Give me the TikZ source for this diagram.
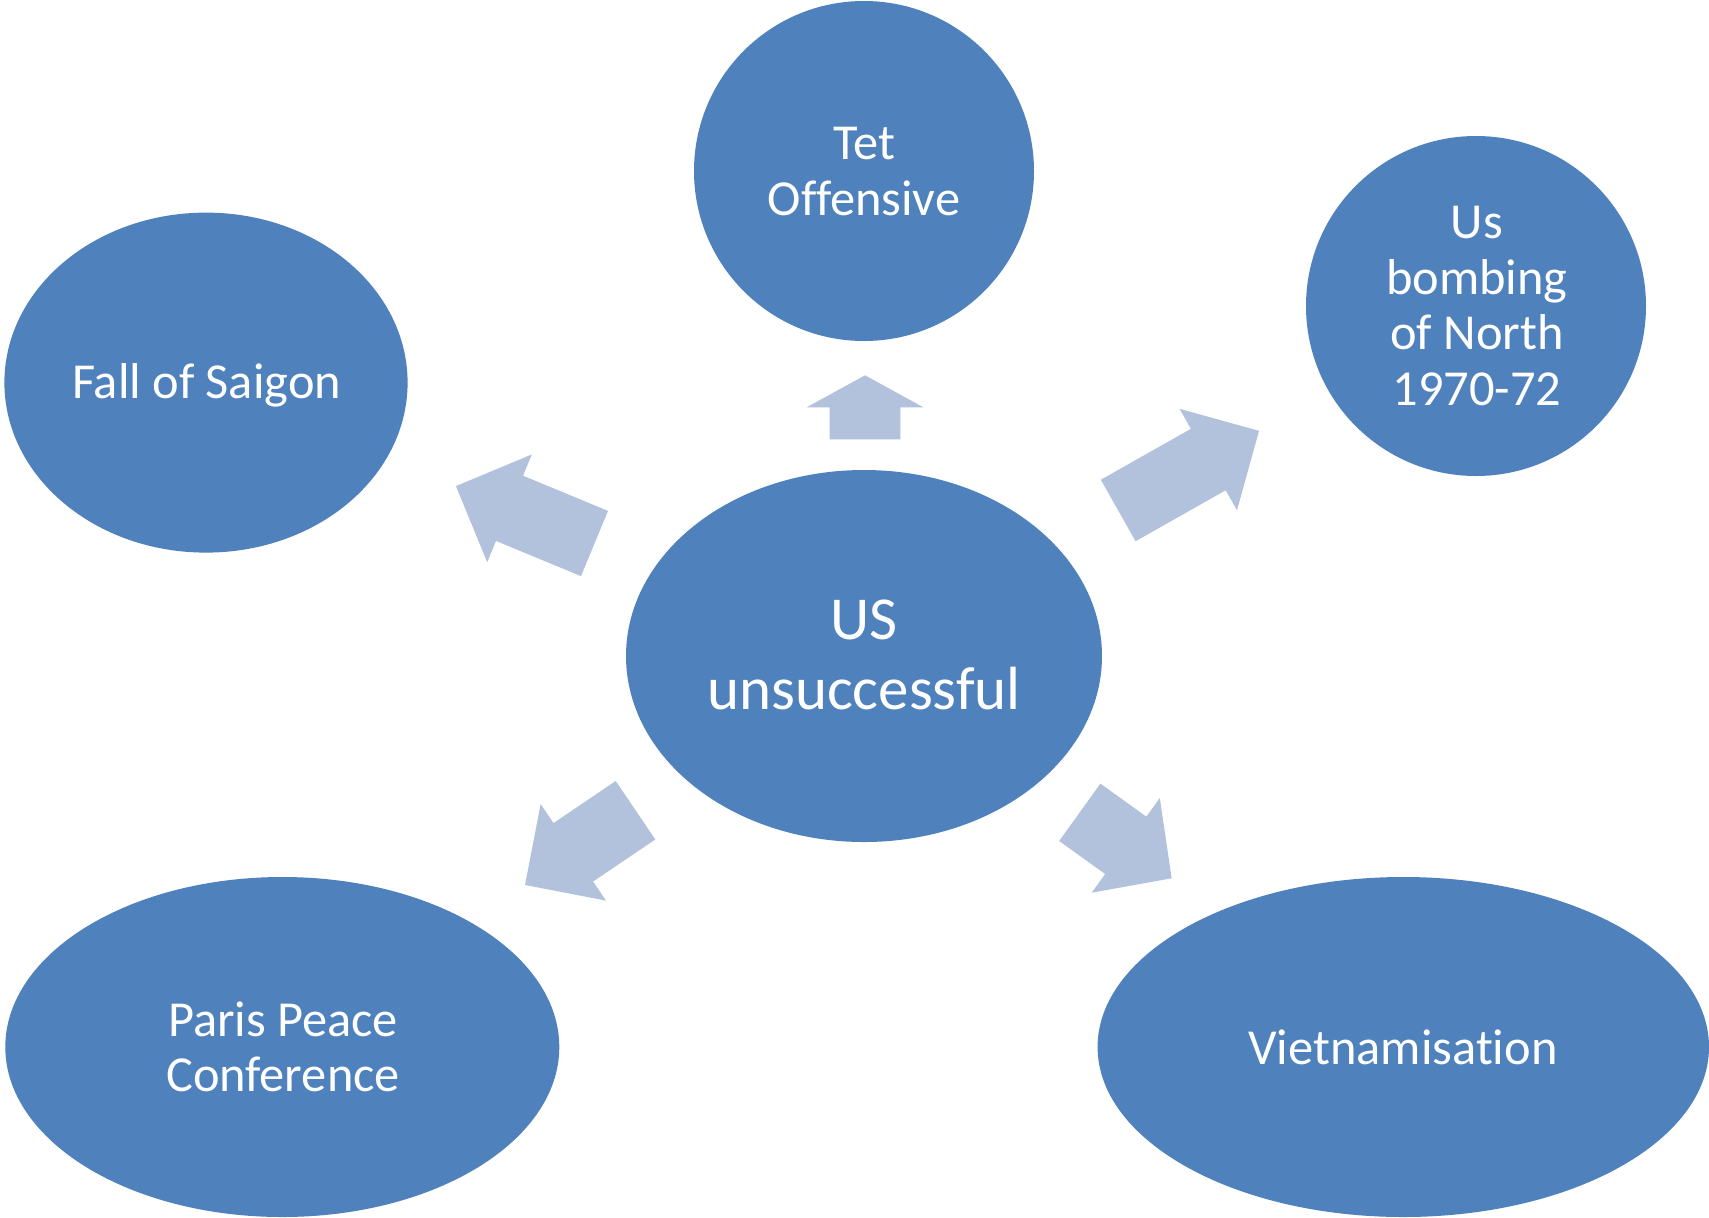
\documentclass[tikz,border=0pt]{standalone}
\usepackage{fontspec}
\setmainfont{Carlito}[RawFeature={-liga;-clig}]
\usetikzlibrary{shapes.geometric}
\definecolor{bubblefill}{RGB}{79,129,189}
\definecolor{arrowfill}{RGB}{178,194,220}
\tikzset{
  bubble/.style={ellipse, fill=bubblefill, draw=none, inner sep=0pt},
  lbl/.style={text=white, align=center, inner sep=0pt},
  small/.style={font=\fontsize{25.2}{#1}\selectfont},
  pics/blockarrow/.style 2 args={code={
    \fill[arrowfill] (0,-35.3) -- ({#1-#2},-35.3) -- ({#1-#2},-58.3) -- (#1,0)
      -- ({#1-#2},58.3) -- ({#1-#2},35.3) -- (0,35.3) -- cycle;
  }}
}
\begin{document}
\begin{tikzpicture}[x=0.5pt,y=-0.5pt]
\fill[white] (0,0) rectangle (1709,1217);
\useasboundingbox (0,0) rectangle (1709,1217);
% bubbles
\node[bubble, minimum width=238pt, minimum height=186pt] (eC) at (864,656) {};
\node[bubble, minimum width=170pt, minimum height=170pt] (eTet) at (864,171) {};
\node[bubble, minimum width=170pt, minimum height=170pt] (eBomb) at (1476,306) {};
\node[bubble, minimum width=201.6pt, minimum height=170pt] (eSaigon) at (206,382.6) {};
\node[bubble, minimum width=277pt, minimum height=170pt] (eParis) at (282.3,1047) {};
\node[bubble, minimum width=305.7pt, minimum height=170pt] (eViet) at (1403.3,1047) {};
% labels
\node[lbl, font=\fontsize{30.5}{35}\selectfont] (tC) at (864,655) {US\\unsuccessful};
\node[lbl, small=27.75] (tTet) at (864,171.5) {Tet\\Offensive};
\node[lbl, small=27.75] (tBomb) at (1477,305.8) {Us\\bombing\\of North\\1970-72};
\node[lbl, small=26, anchor=base] (tSaigon) at (206.7,398) {Fall of Saigon};
\node[lbl, small=27.75] (tParis) at (283,1046.8) {Paris Peace\\Conference};
\node[lbl, small=26, anchor=base] (tViet) at (1403,1064) {Vietnamisation};
% block arrows
\pic[rotate=157.5] (aSaigon) at (594.5,543.5) {blockarrow={150}{58}};
\pic[rotate=90] (aTet) at (865,439.3) {blockarrow={64}{32}};
\pic[rotate=29.5] (aBomb) at (1118.2,510.5) {blockarrow={161.8}{58.3}};
\pic[rotate=-145.9] (aParis) at (635.5,810.2) {blockarrow={133.4}{58.3}};
\pic[rotate=-35.7] (aViet) at (1079.8,812.3) {blockarrow={113.1}{56.5}};
\end{tikzpicture}
\end{document}
